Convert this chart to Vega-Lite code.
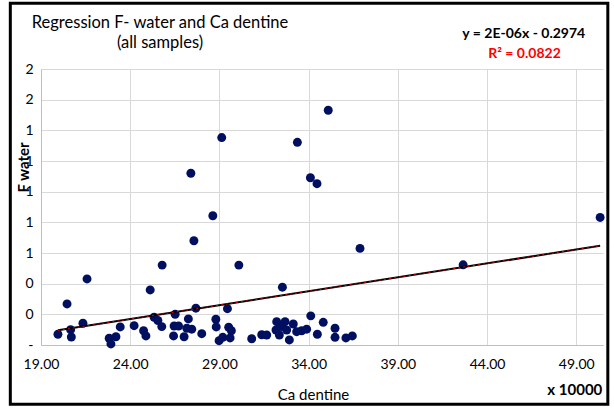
{
  "$schema": "https://vega.github.io/schema/vega-lite/v6.json",
  "width": 562,
  "height": 276,
  "autosize": {"type": "none"},
  "padding": {"left": 41, "top": 69, "right": 11, "bottom": 66},
  "background": "white",
  "config": {
    "font": "Lato",
    "view": {"stroke": null},
    "axis": {"labelOverlap": false, "gridColor": "#d9d9d9", "domainColor": "#bfbfbf", "ticks": false, "labelColor": "black", "titleColor": "black", "labelFontSize": 14}
  },
  "title": {
    "text": ["Regression F- water and Ca dentine", "(all samples)"],
    "anchor": "start",
    "frame": "group",
    "align": "center",
    "dx": 119,
    "lineHeight": 20,
    "offset": -50,
    "fontSize": 16.5,
    "fontWeight": "normal",
    "color": "black",
    "font": "Lato"
  },
  "datasets": {
    "points": [
      {"Ca": 19.95, "F": 0.070}, {"Ca": 20.46, "F": 0.268}, {"Ca": 20.66, "F": 0.100},
      {"Ca": 20.70, "F": 0.052}, {"Ca": 21.35, "F": 0.142}, {"Ca": 21.58, "F": 0.431},
      {"Ca": 22.82, "F": 0.044}, {"Ca": 22.92, "F": 0.007}, {"Ca": 23.20, "F": 0.054},
      {"Ca": 23.44, "F": 0.118}, {"Ca": 24.22, "F": 0.126}, {"Ca": 24.75, "F": 0.093},
      {"Ca": 24.88, "F": 0.059}, {"Ca": 25.12, "F": 0.359}, {"Ca": 25.34, "F": 0.181},
      {"Ca": 25.55, "F": 0.160}, {"Ca": 25.77, "F": 0.120}, {"Ca": 25.79, "F": 0.521},
      {"Ca": 26.43, "F": 0.059}, {"Ca": 26.46, "F": 0.124}, {"Ca": 26.52, "F": 0.200},
      {"Ca": 26.71, "F": 0.124}, {"Ca": 27.02, "F": 0.054}, {"Ca": 27.17, "F": 0.109},
      {"Ca": 27.26, "F": 0.170}, {"Ca": 27.40, "F": 1.120}, {"Ca": 27.45, "F": 0.103},
      {"Ca": 27.57, "F": 0.680}, {"Ca": 27.68, "F": 0.240}, {"Ca": 28.01, "F": 0.074},
      {"Ca": 28.63, "F": 0.843}, {"Ca": 28.80, "F": 0.168}, {"Ca": 28.82, "F": 0.118},
      {"Ca": 28.98, "F": 0.028}, {"Ca": 29.13, "F": 1.353}, {"Ca": 29.19, "F": 0.050},
      {"Ca": 29.45, "F": 0.237}, {"Ca": 29.52, "F": 0.116}, {"Ca": 29.60, "F": 0.046},
      {"Ca": 29.67, "F": 0.093}, {"Ca": 30.09, "F": 0.521}, {"Ca": 30.81, "F": 0.041},
      {"Ca": 31.37, "F": 0.067}, {"Ca": 31.65, "F": 0.065}, {"Ca": 32.17, "F": 0.098},
      {"Ca": 32.21, "F": 0.152}, {"Ca": 32.36, "F": 0.065}, {"Ca": 32.49, "F": 0.120},
      {"Ca": 32.53, "F": 0.377}, {"Ca": 32.68, "F": 0.152}, {"Ca": 32.77, "F": 0.098},
      {"Ca": 32.92, "F": 0.033}, {"Ca": 33.14, "F": 0.137}, {"Ca": 33.33, "F": 0.087},
      {"Ca": 33.37, "F": 1.322}, {"Ca": 33.61, "F": 0.093}, {"Ca": 33.89, "F": 0.103},
      {"Ca": 34.10, "F": 1.091}, {"Ca": 34.12, "F": 0.190}, {"Ca": 34.47, "F": 1.052},
      {"Ca": 34.49, "F": 0.070}, {"Ca": 34.82, "F": 0.148}, {"Ca": 35.10, "F": 1.531},
      {"Ca": 35.48, "F": 0.109}, {"Ca": 35.48, "F": 0.050}, {"Ca": 36.09, "F": 0.046},
      {"Ca": 36.45, "F": 0.059}, {"Ca": 36.88, "F": 0.630}, {"Ca": 42.66, "F": 0.523},
      {"Ca": 50.34, "F": 0.832}
    ]
  },
  "layer": [
    {
      "data": {"name": "points"},
      "mark": {"type": "circle", "size": 80, "opacity": 1, "color": "#000f5f"},
      "encoding": {
        "x": {
          "field": "Ca", "type": "quantitative",
          "scale": {"domain": [19, 50.5], "nice": false, "zero": false},
          "axis": {
            "values": [19, 24, 29, 34, 39, 44, 49],
            "tickCount": 20,
            "format": ".2f",
            "grid": true,
            "labelOverlap": false,
            "labelFlush": false,
            "labelPadding": 12,
            "title": "Ca dentine", "titleFontSize": 15, "titleFontWeight": "normal",
            "titleX": 272, "titleY": 49, "titleBaseline": "middle"
          }
        },
        "y": {
          "field": "F", "type": "quantitative",
          "scale": {"domain": [0, 1.8], "nice": false},
          "axis": {
            "values": [0, 0.2, 0.4, 0.6, 0.8, 1.0, 1.2, 1.4, 1.6, 1.8],
            "tickCount": 20,
            "labelExpr": "datum.value == 0 ? '-' : format(datum.value, '.0f')",
            "labelOverlap": false,
            "labelFlush": false,
            "grid": true,
            "labelPadding": 8,
            "title": "F water", "titleFontSize": 15, "titleFontWeight": "bold",
            "titleX": -18, "titleY": 98,
            "titleAlign": "center", "titleBaseline": "middle", "titleAngle": -90
          }
        }
      }
    },
    {
      "data": {"values": [{}]},
      "mark": {"type": "rect", "filled": false, "stroke": "black", "strokeWidth": 3},
      "encoding": {
        "x": {"datum": 17.28, "type": "quantitative"},
        "x2": {"datum": 50.77},
        "y": {"datum": 2.229, "type": "quantitative"},
        "y2": {"datum": -0.386}
      }
    },
    {
      "data": {"name": "points"},
      "transform": [{"regression": "F", "on": "Ca"}],
      "mark": {"type": "line", "color": "black", "strokeWidth": 2},
      "encoding": {
        "x": {"field": "Ca", "type": "quantitative"},
        "y": {"field": "F", "type": "quantitative"}
      }
    },
    {
      "data": {"name": "points"},
      "transform": [{"regression": "F", "on": "Ca"}],
      "mark": {"type": "line", "color": "#e00000", "strokeWidth": 1, "strokeDash": [2, 3]},
      "encoding": {
        "x": {"field": "Ca", "type": "quantitative"},
        "y": {"field": "F", "type": "quantitative"}
      }
    },
    {
      "data": {"values": [{}]},
      "mark": {"type": "text", "text": "y = 2E-06x - 0.2974", "fontSize": 14, "fontWeight": "bold", "align": "center", "baseline": "middle", "color": "black"},
      "encoding": {
        "x": {"datum": 46.06, "type": "quantitative"},
        "y": {"datum": 2.026, "type": "quantitative"}
      }
    },
    {
      "data": {"values": [{}]},
      "mark": {"type": "text", "text": "R² = 0.0822", "fontSize": 14, "fontWeight": "bold", "align": "center", "baseline": "middle", "color": "#ff0000"},
      "encoding": {
        "x": {"datum": 46.1, "type": "quantitative"},
        "y": {"datum": 1.895, "type": "quantitative"}
      }
    },
    {
      "data": {"values": [{}]},
      "mark": {"type": "text", "text": "x 10000", "fontSize": 15, "fontWeight": "bold", "align": "center", "baseline": "middle", "color": "black"},
      "encoding": {
        "x": {"datum": 48.92, "type": "quantitative"},
        "y": {"datum": -0.294, "type": "quantitative"}
      }
    }
  ]
}
